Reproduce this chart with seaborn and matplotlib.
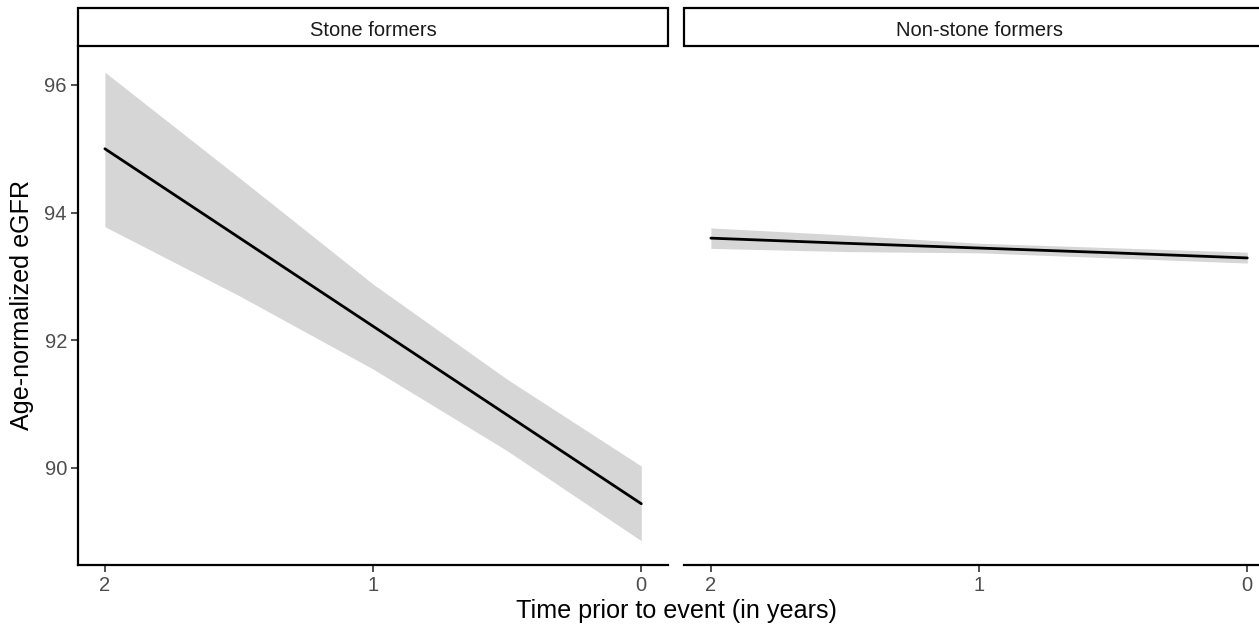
import numpy as np
import pandas as pd
import seaborn as sns
import matplotlib.pyplot as plt
from matplotlib.patches import Rectangle

sns.set_theme(style='white')
plt.rcParams['font.family'] = ['Liberation Sans', 'DejaVu Sans']

# Values (fitted line + confidence band)
years = [2.0, 1.5, 1.0, 0.5, 0.0]

stone_fit = [95.00, 93.61, 92.22, 90.83, 89.44]
stone_upper = [96.20, 94.55, 92.88, 91.39, 90.03]
stone_lower = [93.78, 92.70, 91.55, 90.27, 88.86]

nonstone_fit = [93.60, 93.52, 93.445, 93.37, 93.29]
nonstone_upper = [93.76, 93.65, 93.52, 93.45, 93.38]
nonstone_lower = [93.44, 93.39, 93.37, 93.29, 93.21]

groups = ['Stone formers', 'Non-stone formers']

df = pd.DataFrame({
    'time': years * 2,
    'egfr': stone_fit + nonstone_fit,
    'upper': stone_upper + nonstone_upper,
    'lower': stone_lower + nonstone_lower,
    'group': [groups[0]] * len(years) + [groups[1]] * len(years),
})

fig, axes = plt.subplots(1, 2, figsize=(12.59, 6.29), dpi=100, sharey=True)
fig.subplots_adjust(left=0.062, right=1.012, bottom=0.1017, top=0.9269, wspace=0.027)

strip_h = 38 / 519
for ax, grp in zip(axes, groups):
    sub = df[df.group == grp]
    ax.fill_between(sub.time, sub.lower, sub.upper, color='#D6D6D6', linewidth=0, zorder=1)
    sns.lineplot(data=sub, x='time', y='egfr', color='black', linewidth=2.0,
                 errorbar=None, ax=ax, zorder=2)
    ax.set_xlim(2.1, -0.1)
    ax.set_ylim(88.48, 96.61)
    ax.set_xticks([2, 1, 0])
    ax.set_yticks([90, 92, 94, 96])
    ax.set_xlabel('')
    ax.set_ylabel('')
    for s in ['top', 'right']:
        ax.spines[s].set_visible(False)
    ax.spines['bottom'].set_color('black')
    ax.spines['bottom'].set_linewidth(1.6)
    ax.spines['left'].set_color('black')
    ax.spines['left'].set_linewidth(1.6)
    ax.tick_params(axis='both', which='major', length=5, width=1.2, color='#333333',
                   labelcolor='#4D4D4D', labelsize=14.5, pad=3,
                   bottom=True, left=True)
    # facet strip
    ax.add_patch(Rectangle((0, 1.0), 1, strip_h, transform=ax.transAxes,
                           facecolor='white', edgecolor='black', linewidth=1.6,
                           clip_on=False))
    ax.text(0.5, 1 + strip_h * 0.42, grp, transform=ax.transAxes, ha='center',
            va='center', fontsize=14.5, color='#1A1A1A')

axes[1].spines['left'].set_visible(False)
axes[1].tick_params(axis='y', left=False, labelleft=False)

fig.text(0.537, 0.0286, 'Time prior to event (in years)', ha='center', va='center',
         fontsize=18.1, color='black')
fig.text(0.0175, 0.515, 'Age-normalized eGFR', ha='center', va='center',
         rotation=90, fontsize=18.1, color='black')

fig.savefig('out.png', dpi=100, facecolor='white')
